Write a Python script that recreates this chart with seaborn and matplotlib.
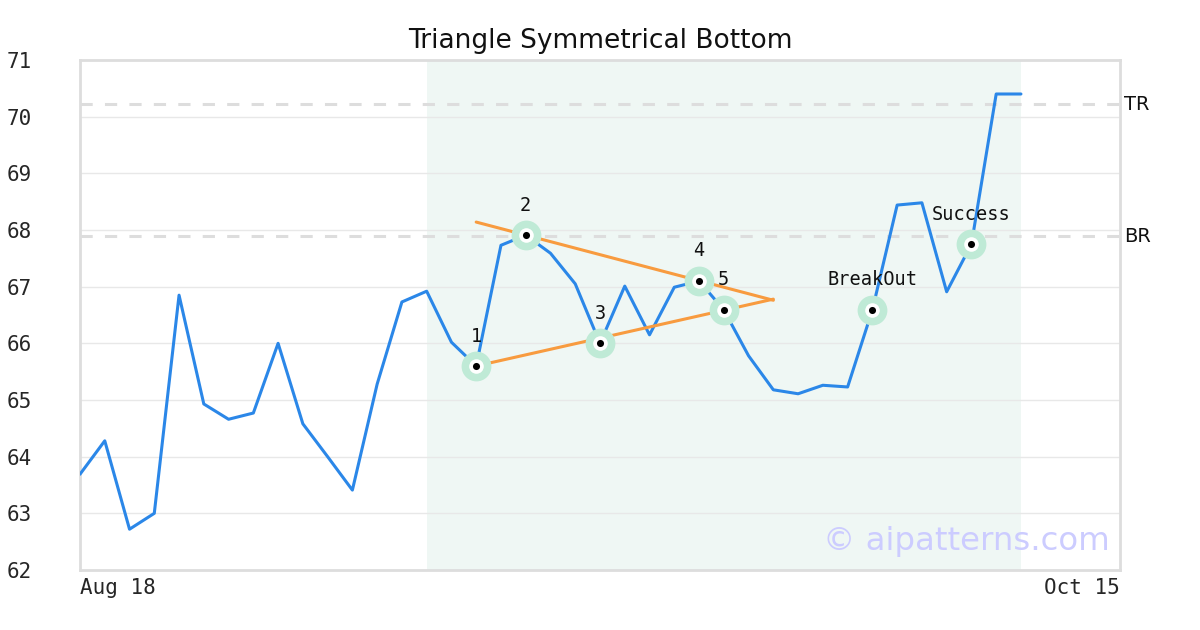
import pandas as pd
import matplotlib
matplotlib.use("Agg")
import matplotlib.pyplot as plt
import seaborn as sns

# price series (one value per trading day, Aug 18 .. )
prices = [63.69, 64.28, 62.72, 63.00, 66.85, 64.93, 64.66, 64.77, 66.00, 64.58,
          64.00, 63.41, 65.28, 66.73, 66.92, 66.02, 65.60, 67.73, 67.91, 67.59,
          67.05, 66.00, 67.01, 66.15, 66.99, 67.10, 66.59, 65.78, 65.18, 65.11,
          65.26, 65.23, 66.59, 68.44, 68.48, 66.91, 67.75, 70.40, 70.40]
n_days = 42
date_labels = ["Aug 18", "Oct 15"]

# pattern points
point_idx = [16, 18, 21, 25, 26, 32, 36]
point_labels = ["1", "2", "3", "4", "5", "BreakOut", "Success"]

# triangle trend lines
upper_x = [16, 28]
upper_y = [68.14, 66.76]
lower_x = [16, 28]
lower_y = [65.60, 66.78]

# resistance levels
levels = [70.22, 67.89]
level_names = ["TR", "BR"]

pattern_span = (14, 38)

df = pd.DataFrame({"day": range(len(prices)), "price": prices})
pts = df.iloc[point_idx]

sns.set_style("white")
plt.rcParams["font.family"] = ["DejaVu Sans"]

fig = plt.figure(figsize=(12, 6.3), dpi=100)
ax = fig.add_axes([80 / 1200, 60 / 630, 1040 / 1200, 510 / 630])

ax.axvspan(*pattern_span, color="#eff7f4", zorder=0, lw=0)
for y in range(62, 72):
    ax.axhline(y, color="#e8e8e8", lw=1, zorder=1)
for lv, name in zip(levels, level_names):
    ax.axhline(lv, color="#dddddd", lw=2.2, ls=(0, (4, 4)), zorder=1)
    ax.text(1.004, lv, name, transform=ax.get_yaxis_transform(), va="center",
            ha="left", fontsize=14, color="#111111")

sns.lineplot(data=df, x="day", y="price", ax=ax, color="#2b87e8", lw=2.2, zorder=3)
sns.lineplot(x=upper_x, y=upper_y, ax=ax, color="#f89b3f", lw=2.2, zorder=4)
sns.lineplot(x=lower_x, y=lower_y, ax=ax, color="#f89b3f", lw=2.2, zorder=4)

ax.scatter(pts["day"], pts["price"], s=460, color="#bfead6", lw=0, zorder=5)
ax.scatter(pts["day"], pts["price"], s=110, color="white", lw=0, zorder=6)
ax.scatter(pts["day"], pts["price"], s=26, color="black", lw=0, zorder=7)
for (_, r), lab in zip(pts.iterrows(), point_labels):
    ax.annotate(lab, (r["day"], r["price"]), xytext=(0, 21.6), textcoords="offset points",
                ha="center", va="center", fontsize=13.4, family="DejaVu Sans Mono",
                color="#111111", zorder=8)

ax.text(0.99, 0.055, "© aipatterns.com", transform=ax.transAxes, ha="right",
        va="center", fontsize=23.3, color="#ccccff", zorder=2)

ax.set_xlim(0, n_days)
ax.set_ylim(62, 71)
ax.set_yticks(range(62, 72))
ax.set_yticklabels([str(v) for v in range(62, 72)], family="DejaVu Sans Mono", fontsize=15)
ax.set_xticks([0, n_days])
ax.set_xticklabels(date_labels, family="DejaVu Sans Mono", fontsize=15)
xt = ax.get_xticklabels()
xt[0].set_ha("left")
xt[1].set_ha("right")
ax.tick_params(axis="y", length=0, pad=35)
ax.tick_params(axis="x", length=0, pad=6)
ax.set_xlabel("")
ax.set_ylabel("")
for sp in ax.spines.values():
    sp.set_color("#dddddd")
    sp.set_linewidth(2)
ax.set_title("Triangle Symmetrical Bottom", fontsize=19, pad=9, color="#111111")

fig.savefig("out.png", dpi=100)
